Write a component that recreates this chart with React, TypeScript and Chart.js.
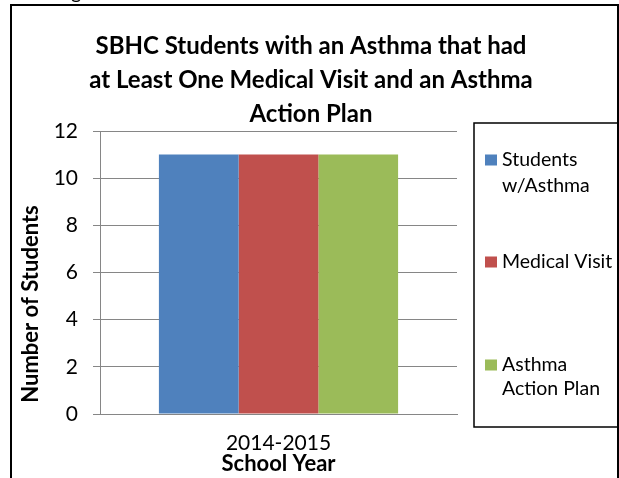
import React, { useEffect, useRef } from "react";
import { Chart, registerables } from "chart.js";

Chart.register(...registerables);

const categories = ["2014-2015"];
const seriesNames = ["Students w/Asthma", "Medical Visit", "Asthma Action Plan"];
const legendLines = [["Students", "w/Asthma"], ["Medical Visit"], ["Asthma", "Action Plan"]];
const studentsWithAsthma = [11];
const medicalVisit = [11];
const asthmaActionPlan = [11];
const seriesColors = ["#4F81BD", "#C0504D", "#9BBB59"];
const titleLines = [
  "SBHC Students with an Asthma that had",
  "at Least One Medical Visit and an Asthma",
  "Action Plan",
];
const yAxisTitle = "Number of Students";
const xAxisTitle = "School Year";
const yMin = 0;
const yMax = 12;
const yStep = 2;

const FONT = "Lato, 'Open Sans', sans-serif";

const decorPlugin = {
  id: "decor",
  afterDraw(chart: any) {
    const ctx = chart.ctx as CanvasRenderingContext2D;
    const area = chart.chartArea;
    ctx.save();
    // outer frame
    ctx.strokeStyle = "#000";
    ctx.lineWidth = 2;
    ctx.strokeRect(11, 5, 607, 520);
    // clipped text above frame
    ctx.fillStyle = "#000";
    ctx.font = `20px ${FONT}`;
    ctx.textAlign = "left";
    ctx.textBaseline = "alphabetic";
    ctx.fillText("g", 71, -1);
    // title
    ctx.font = `bold 24px ${FONT}`;
    ctx.textAlign = "center";
    ctx.textBaseline = "middle";
    titleLines.forEach((t, i) => ctx.fillText(t, 311, 46 + i * 34));
    // y axis title
    ctx.save();
    ctx.translate(31, 304);
    ctx.rotate(-Math.PI / 2);
    ctx.font = `bold 22px ${FONT}`;
    ctx.fillText(yAxisTitle, 0, 0);
    ctx.restore();
    // x axis title
    ctx.font = `bold 22px ${FONT}`;
    ctx.fillText(xAxisTitle, (area.left + area.right) / 2, 464);
    // legend
    ctx.lineWidth = 1.5;
    ctx.strokeRect(474, 123, 144, 304);
    const itemY = [[160, 186], [262], [365, 389]];
    ctx.font = `19.5px ${FONT}`;
    ctx.textAlign = "left";
    chart.data.datasets.forEach((ds: any, i: number) => {
      const ys = itemY[i];
      ctx.fillStyle = ds.backgroundColor;
      ctx.fillRect(485, ys[0] - 5.5, 12, 11);
      ctx.fillStyle = "#000";
      legendLines[i].forEach((line, j) => ctx.fillText(line, 502, ys[j]));
    });
    ctx.restore();
  },
};

export default function App() {
  const ref = useRef<HTMLCanvasElement>(null);
  useEffect(() => {
    if (!ref.current) return;
    const chart = new Chart(ref.current, {
      type: "bar",
      data: {
        labels: categories,
        datasets: [studentsWithAsthma, medicalVisit, asthmaActionPlan].map((d, i) => ({
          label: seriesNames[i],
          data: d,
          backgroundColor: seriesColors[i],
          borderWidth: 0,
          barPercentage: 1,
          categoryPercentage: 0.67,
        })),
      },
      options: {
        animation: false,
        responsive: false,
        devicePixelRatio: 1,
        layout: { padding: { left: 40, right: 162, top: 131, bottom: 0 } },
        plugins: { legend: { display: false }, title: { display: false }, tooltip: { enabled: false } },
        scales: {
          x: {
            grid: { display: false, drawTicks: false },
            border: { display: true, color: "#868686", width: 1 },
            ticks: { color: "#000", font: { family: FONT, size: 21 }, padding: 17 },
            afterFit: (s: any) => { s.height = 64; },
          },
          y: {
            min: yMin,
            max: yMax,
            ticks: { stepSize: yStep, color: "#000", font: { family: FONT, size: 21 }, padding: 15 },
            grid: { color: "#868686", tickLength: 7, lineWidth: 1 },
            border: { display: true, color: "#868686", width: 1 },
            afterFit: (s: any) => { s.width = 60; },
          },
        },
      },
      plugins: [decorPlugin],
    });
    return () => chart.destroy();
  }, []);
  return (
    <div style={{ position: "absolute", left: 0, top: 0, width: 619, height: 478, background: "#fff" }}>
      <canvas ref={ref} width={619} height={478} style={{ width: 619, height: 478, display: "block" }} />
    </div>
  );
}
